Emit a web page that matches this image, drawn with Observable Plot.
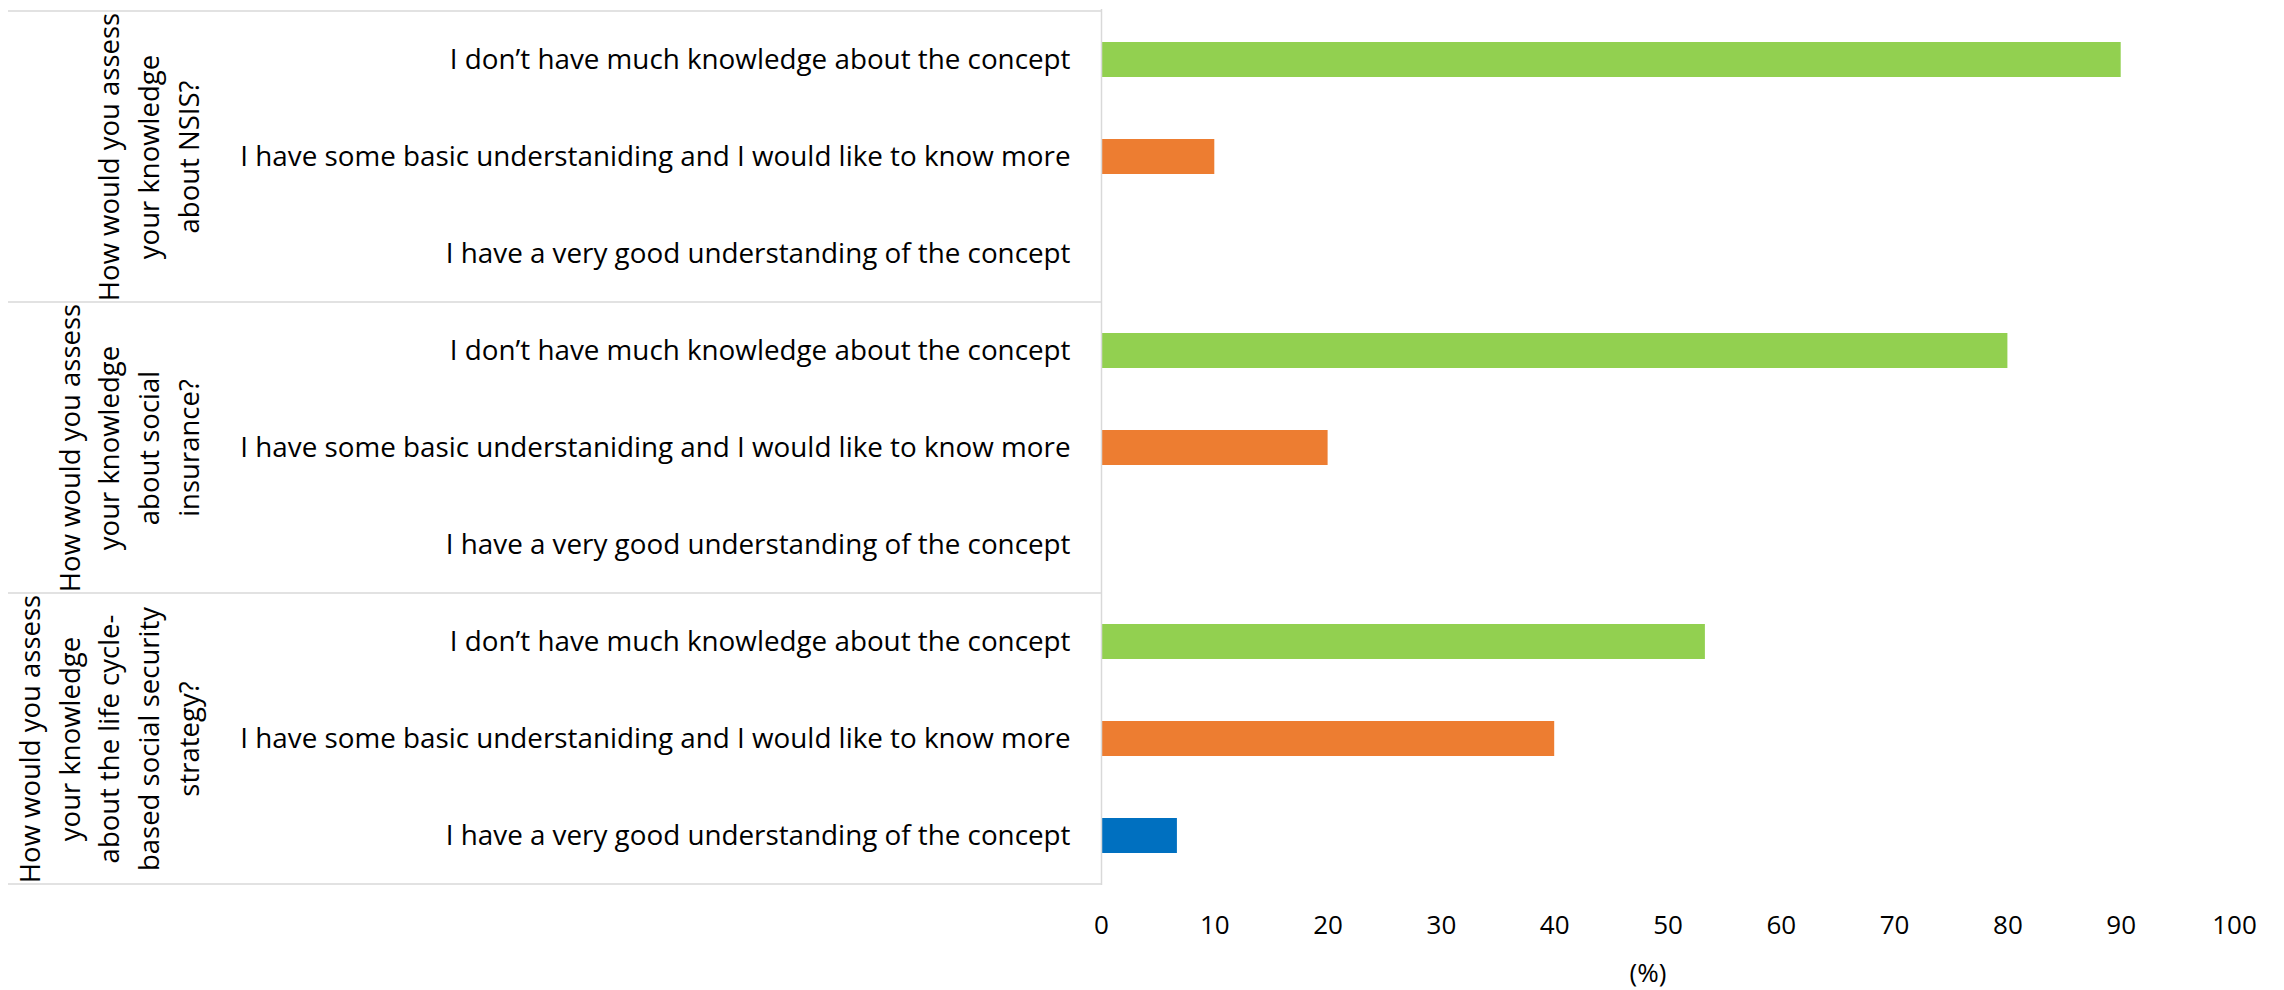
<!DOCTYPE html>
<html><head><meta charset="utf-8">
<script src="https://cdn.jsdelivr.net/npm/d3@7"></script>
<script src="https://cdn.jsdelivr.net/npm/@observablehq/plot@0.6"></script>
<style>html,body{margin:0;padding:0;background:#fff}</style>
</head><body><div id="chart"></div>
<script>
const questions = [
  "How would you assess\nyour knowledge\nabout NSIS?",
  "How would you assess\nyour knowledge\nabout social\ninsurance?",
  "How would you assess\nyour knowledge\nabout the life cycle-\nbased social security\nstrategy?"
];
const answers = [
  "I don\u2019t have much knowledge about the concept",
  "I have some basic understaniding and I would like to know more",
  "I have a very good understanding of the concept"
];
const answerColors = ["#92D050", "#ED7D31", "#0070C0"];
const nsisValues = [90, 10, 0];
const socialInsuranceValues = [80, 20, 0];
const lifeCycleValues = [53.3, 40, 6.7];
const xTicks = [0, 10, 20, 30, 40, 50, 60, 70, 80, 90, 100];
const xLabel = "(%)";

const seriesByQuestion = [nsisValues, socialInsuranceValues, lifeCycleValues];
const rows = [];
questions.forEach((q, qi) => answers.forEach((a, ai) => rows.push({
  key: qi + "|" + ai, question: q, answer: a, value: seriesByQuestion[qi][ai]
})));
const keys = rows.map(d => d.key);
const groupLabels = questions.map((q, qi) => ({question: q, key: qi + "|1"}));

const font = "'Open Sans', sans-serif";
const plot = Plot.plot({
  width: 2284, height: 990,
  marginLeft: 1101, marginRight: 50, marginTop: 9, marginBottom: 105,
  style: {fontFamily: font, fontSize: "26px", color: "#000", background: "#fff"},
  x: {domain: [0, 100]},
  y: {domain: keys, paddingInner: 0.64, paddingOuter: 0.32, align: 0.5},
  color: {domain: answers, range: answerColors},
  marks: [
    Plot.barX(rows, {x: "value", y: "key", fill: "answer", insetTop: 0, insetBottom: 0}),
    Plot.ruleX([0], {stroke: "#d9d9d9", strokeWidth: 1.5}),
    Plot.axisX({ticks: xTicks, tickSize: 0, tickPadding: 30, label: null, fontSize: 26}),
    Plot.axisY({tickSize: 0, tickPadding: 31, fontSize: 27.8, label: null,
      tickFormat: k => answers[+k.split("|")[1]]}),
    Plot.text(groupLabels, {y: "key", text: "question", rotate: -90, frameAnchor: "left",
      dx: -903, textAnchor: "middle", lineAnchor: "bottom", lineHeight: 1.44, fontSize: 27.5}),
    Plot.text([xLabel], {text: d => d, frameAnchor: "bottom", dy: 96, dx: -20, fontSize: 26})
  ]
});
document.getElementById("chart").appendChild(plot);

// category-axis box lines (Excel multi-level axis), positioned from Plot's own scales
const ys = plot.scale("y"), xs = plot.scale("x");
const gap = ys.step - ys.bandwidth;
const bounds = [];
questions.forEach((q, qi) => {
  const first = ys.apply(qi + "|0") - gap / 2;
  const last = ys.apply(qi + "|" + (answers.length - 1)) + ys.bandwidth + gap / 2;
  if (qi === 0) bounds.push(first);
  bounds.push(last);
});
const x0 = xs.apply(0);
d3.select(plot).append("g").selectAll("line").data(bounds).join("line")
  .attr("x1", 8).attr("x2", x0).attr("y1", d => d).attr("y2", d => d)
  .attr("stroke", "#d9d9d9").attr("stroke-width", 1.5);
</script>
</body></html>
